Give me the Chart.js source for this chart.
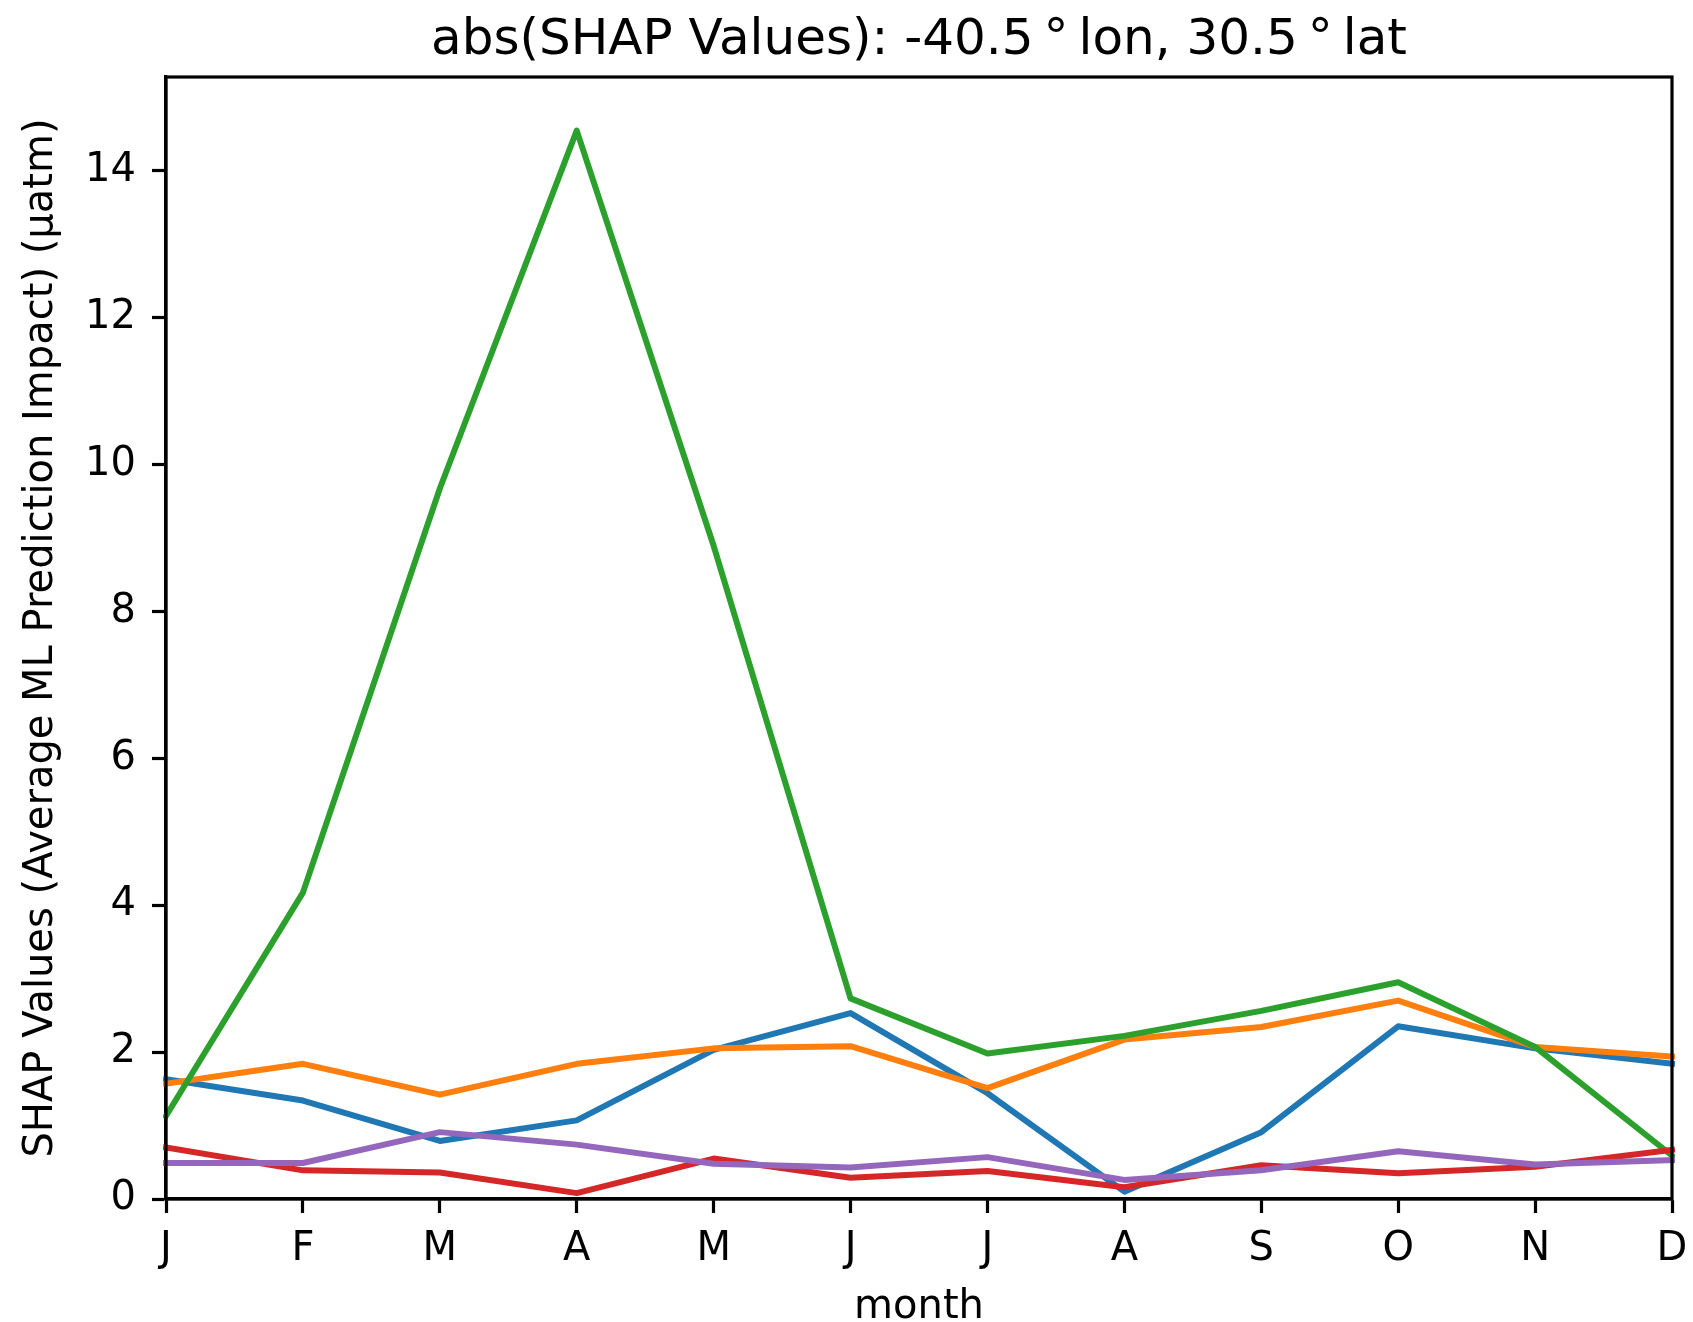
<!DOCTYPE html>
<html>
<head>
<meta charset="utf-8">
<title>abs(SHAP Values)</title>
<script src="https://cdn.jsdelivr.net/npm/chart.js@4.4.1/dist/chart.umd.min.js"></script>
<style>
  html, body { margin: 0; padding: 0; background: #ffffff; }
  canvas { display: block; }
</style>
</head>
<body>
<canvas id="chart" width="1693" height="1322"></canvas>
<script>
// Month initials along the x axis
const months = ['J', 'F', 'M', 'A', 'M', 'J', 'J', 'A', 'S', 'O', 'N', 'D'];

// Monthly mean |SHAP| per feature (µatm)
const seriesBlue   = [1.63, 1.34, 0.79, 1.07, 2.03, 2.53, 1.44, 0.10, 0.91, 2.35, 2.05, 1.84];
const seriesOrange = [1.57, 1.84, 1.42, 1.84, 2.05, 2.08, 1.51, 2.17, 2.34, 2.70, 2.07, 1.94];
const seriesGreen  = [1.13, 4.17, 9.67, 14.54, 8.89, 2.73, 1.98, 2.22, 2.56, 2.95, 2.07, 0.59];
const seriesRed    = [0.70, 0.39, 0.36, 0.08, 0.55, 0.29, 0.38, 0.16, 0.46, 0.35, 0.44, 0.67];
const seriesPurple = [0.49, 0.49, 0.91, 0.74, 0.48, 0.43, 0.57, 0.26, 0.39, 0.65, 0.47, 0.53];

// Y axis tick values and upper limit
const yTicks = [0, 2, 4, 6, 8, 10, 12, 14];
const yMax = 15.27;

const titleText = 'abs(SHAP Values): -40.5\u2009°\u2009lon, 30.5\u2009°\u2009lat';

const FONT = 'DejaVu Sans';

// Title centred over the plot area, sitting just above the top spine
const axesTitle = {
  id: 'axesTitle',
  afterDraw(chart) {
    const { ctx, chartArea: a } = chart;
    ctx.save();
    ctx.fillStyle = '#000000';
    ctx.font = '50px "' + FONT + '"';
    ctx.textAlign = 'center';
    ctx.textBaseline = 'alphabetic';
    ctx.fillText(titleText, (a.left + a.right) / 2, a.top - 23.5);
    ctx.restore();
  }
};

// Closes the box: top and right spines, drawn over the lines
const frame = {
  id: 'frame',
  afterDatasetsDraw(chart) {
    const { ctx, chartArea: a } = chart;
    ctx.save();
    ctx.strokeStyle = '#000000';
    ctx.lineWidth = 3.2;
    ctx.lineCap = 'square';
    ctx.strokeRect(a.left, a.top, a.right - a.left, a.bottom - a.top);
    ctx.restore();
  }
};

const palette = ['#1f77b4', '#ff7f0e', '#2ca02c', '#d62728', '#9467bd'];
const series = [seriesBlue, seriesOrange, seriesGreen, seriesRed, seriesPurple];

new Chart(document.getElementById('chart'), {
  type: 'line',
  data: {
    labels: months,
    datasets: series.map((values, i) => ({
      data: values,
      borderColor: palette[i],
      backgroundColor: palette[i],
      borderWidth: 6,
      borderJoinStyle: 'round',
      borderCapStyle: 'square',
      pointRadius: 0,
      tension: 0,
      fill: false,
      order: series.length - 1 - i
    }))
  },
  options: {
    responsive: false,
    animation: false,
    devicePixelRatio: 1,
    layout: { padding: { left: 0, right: 21, top: 77, bottom: 0 } },
    plugins: {
      legend: { display: false },
      tooltip: { enabled: false },
      title: { display: false }
    },
    scales: {
      x: {
        type: 'category',
        offset: false,
        grid: {
          display: true,
          drawOnChartArea: false,
          drawTicks: true,
          tickLength: 14,
          tickWidth: 3.2,
          tickColor: '#000000',
          color: '#000000'
        },
        border: { display: true, color: '#000000', width: 3.2 },
        ticks: {
          color: '#000000',
          font: { family: FONT, size: 40, lineHeight: 1.2 },
          padding: 13,
          maxRotation: 0,
          autoSkip: false
        },
        title: {
          display: true,
          text: 'month',
          color: '#000000',
          font: { family: FONT, size: 40, lineHeight: 0.7 },
          padding: { top: 0, bottom: 0 }
        },
        afterFit(scale) {
          scale.height = 123;
          scale.paddingLeft = 0;
          scale.paddingRight = 0;
        }
      },
      y: {
        type: 'linear',
        min: 0,
        max: yMax,
        grid: {
          display: true,
          drawOnChartArea: false,
          drawTicks: true,
          tickLength: 14,
          tickWidth: 3.2,
          tickColor: '#000000',
          color: '#000000'
        },
        border: { display: true, color: '#000000', width: 3.2 },
        ticks: {
          color: '#000000',
          font: { family: FONT, size: 40, lineHeight: 1.2 },
          padding: 16
        },
        afterBuildTicks(scale) { scale.ticks = yTicks.map(v => ({ value: v })); },
        title: {
          display: true,
          text: 'SHAP Values (Average ML Prediction Impact) (μatm)',
          color: '#000000',
          font: { family: FONT, size: 40, lineHeight: 1.2 },
          padding: { top: 18, bottom: 0 }
        },
        afterFit(scale) {
          scale.width = 166;
          scale.paddingTop = 0;
          scale.paddingBottom = 0;
        }
      }
    }
  },
  plugins: [frame, axesTitle]
});
</script>
</body>
</html>
